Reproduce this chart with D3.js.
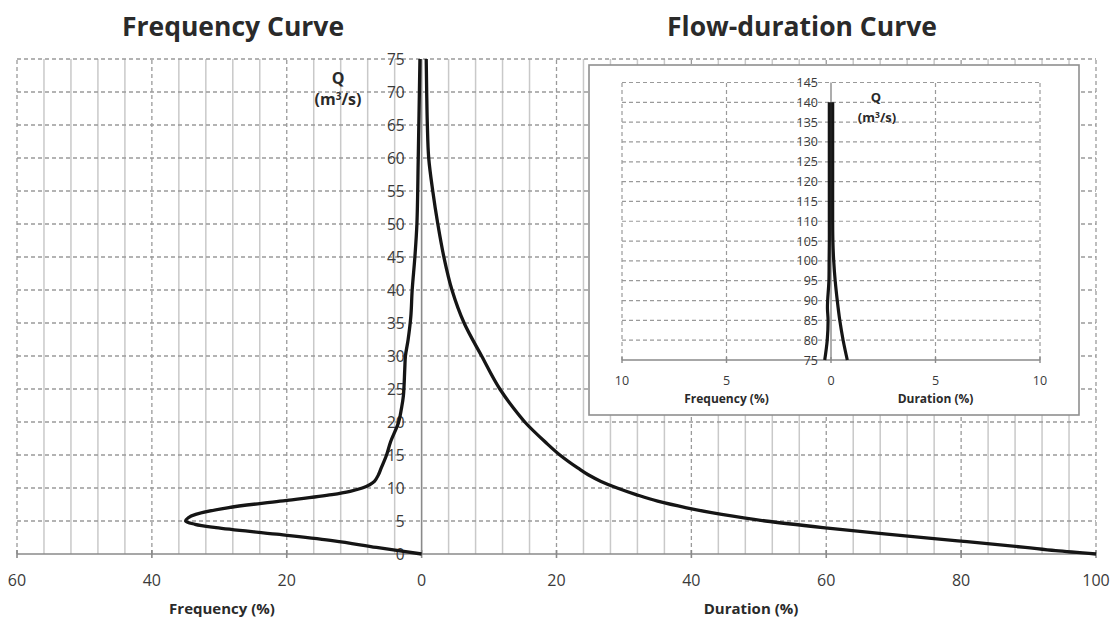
<!DOCTYPE html>
<html>
<head>
<meta charset="utf-8">
<script src="https://cdn.jsdelivr.net/npm/d3@7"></script>
<style>
  html, body { margin: 0; padding: 0; background: #fff; }
  svg { display: block; }
  text { font-family: "Open Sans", Lato, sans-serif; }
</style>
</head>
<body>
<svg id="chart" width="1111" height="622"></svg>
<script>
// ---------------- DATA ----------------
// Main chart: frequency curve (left side, %), discharge Q (m3/s)
const freqQ   = [0, 1, 2, 3, 4, 4.5, 5, 5.5, 6, 7, 8, 9, 9.5, 10, 10.5, 11, 12, 13, 15, 17, 20, 22, 24, 28, 30, 32.5, 36, 40, 45, 50, 60, 75];
const freqPct = [0, 6.7, 13, 21.5, 30.5, 33.6, 35, 34.6, 33.5, 28.8, 21, 13.3, 10.6, 8.8, 7.7, 7.0, 6.4, 6.0, 5.2, 4.6, 3.4, 3.0, 2.7, 2.5, 2.4, 2.0, 1.6, 1.4, 1.0, 0.7, 0.5, 0.25];
// Main chart: flow-duration curve (right side, %)
const durQ    = [0, 0.5, 1, 2, 3, 4, 5, 6, 7, 8, 9, 10, 11, 12, 13, 15, 17, 20, 22, 25, 30, 35, 40, 45, 50, 55, 60, 65, 70, 75];
const durPct  = [100, 94, 89.5, 79.5, 69, 59.5, 51, 44.5, 39.3, 35, 31.8, 29, 26.6, 24.7, 23.2, 20.5, 18.3, 15.3, 13.7, 11.6, 8.9, 6.3, 4.5, 3.3, 2.4, 1.65, 1.05, 0.85, 0.75, 0.68];
// Inset (high flows)
const insetFreqQ   = [75, 80, 85, 88, 90, 95, 100, 105, 110, 120, 130, 140];
const insetFreqPct = [0.3, 0.18, 0.14, 0.17, 0.16, 0.1, 0.09, 0.08, 0.08, 0.08, 0.08, 0.08];
const insetDurQ    = [75, 80, 85, 90, 95, 100, 105, 110, 120, 130, 140];
const insetDurPct  = [0.78, 0.58, 0.42, 0.3, 0.2, 0.13, 0.09, 0.08, 0.08, 0.08, 0.08];

// Tick labels
const mainXTicks  = [-60, -40, -20, 0, 20, 40, 60, 80, 100];
const mainYTicks  = [0, 5, 10, 15, 20, 25, 30, 35, 40, 45, 50, 55, 60, 65, 70, 75];
const insetXTicks = [-10, -5, 0, 5, 10];
const insetYTicks = [75, 80, 85, 90, 95, 100, 105, 110, 115, 120, 125, 130, 135, 140, 145];

const titles = { left: "Frequency Curve", right: "Flow-duration Curve" };
const axisTitles = { freq: "Frequency (%)", dur: "Duration (%)" };

// ---------------- DRAW ----------------
const svg = d3.select("#chart");
const gridDash = "4,3";
const gridCol = "#9a9a9a";
const minorCol = "#c9c9c9";
const axisCol = "#8a8a8a";
const lineCol = "#151515";
const textCol = "#2a2a2a";
const tickCol = "#3a3a3a";

const x = d3.scaleLinear().domain([-60, 100]).range([17, 1096]);
const y = d3.scaleLinear().domain([0, 75]).range([554, 59]);

// Titles
svg.append("text").attr("x", 233).attr("y", 36).attr("text-anchor", "middle")
  .attr("font-size", 26.5).attr("font-weight", 700).attr("fill", textCol).text(titles.left);
svg.append("text").attr("x", 802).attr("y", 36).attr("text-anchor", "middle")
  .attr("font-size", 26.5).attr("font-weight", 700).attr("fill", textCol).text(titles.right);

const main = svg.append("g");

// minor vertical gridlines (solid) every 4 units
const minorX = d3.range(-60, 101, 4).filter(v => v % 20 !== 0);
main.selectAll(".minor").data(minorX).join("line")
  .attr("x1", d => x(d)).attr("x2", d => x(d))
  .attr("y1", y(0)).attr("y2", y(75))
  .attr("stroke", minorCol).attr("stroke-width", 1.5);

// major vertical gridlines (dashed)
main.selectAll(".majorV").data(mainXTicks.filter(v => v !== 0)).join("line")
  .attr("x1", d => x(d)).attr("x2", d => x(d))
  .attr("y1", y(0)).attr("y2", y(75))
  .attr("stroke", gridCol).attr("stroke-width", 1.3).attr("stroke-dasharray", gridDash);

// horizontal dashed gridlines
main.selectAll(".majorH").data(mainYTicks.filter(v => v !== 0)).join("line")
  .attr("x1", x(-60)).attr("x2", x(100))
  .attr("y1", d => y(d)).attr("y2", d => y(d))
  .attr("stroke", gridCol).attr("stroke-width", 1.3).attr("stroke-dasharray", gridDash);

// axes
main.append("line").attr("x1", x(-60)).attr("x2", x(100)).attr("y1", y(0)).attr("y2", y(0))
  .attr("stroke", axisCol).attr("stroke-width", 1.6);
main.append("line").attr("x1", x(0)).attr("x2", x(0)).attr("y1", y(0)).attr("y2", y(75))
  .attr("stroke", axisCol).attr("stroke-width", 1.6);
main.selectAll(".xtick").data(mainXTicks).join("line")
  .attr("x1", d => x(d)).attr("x2", d => x(d))
  .attr("y1", y(0) - 4).attr("y2", y(0) + 4)
  .attr("stroke", axisCol).attr("stroke-width", 1.6);

// tick labels
main.selectAll(".xlab").data(mainXTicks).join("text")
  .attr("x", d => x(d)).attr("y", y(0) + 32)
  .attr("text-anchor", "middle").attr("font-size", 16).attr("fill", tickCol)
  .text(d => Math.abs(d));
main.selectAll(".ylab").data(mainYTicks).join("text")
  .attr("x", x(0) - 17).attr("y", d => y(d) + 5.5)
  .attr("text-anchor", "end").attr("font-size", 15.5).attr("fill", tickCol)
  .text(d => d);

// axis titles
main.append("text").attr("x", 222).attr("y", 614).attr("text-anchor", "middle")
  .attr("font-size", 15).attr("font-weight", 700).attr("fill", textCol).text(axisTitles.freq);
main.append("text").attr("x", 751).attr("y", 614).attr("text-anchor", "middle")
  .attr("font-size", 15).attr("font-weight", 700).attr("fill", textCol).text(axisTitles.dur);

// Q label
main.append("text").attr("x", 338).attr("y", 84).attr("text-anchor", "middle")
  .attr("font-size", 16).attr("font-weight", 700).attr("fill", textCol).text("Q");
const mLab = main.append("text").attr("x", 338).attr("y", 105).attr("text-anchor", "middle")
  .attr("font-size", 16).attr("font-weight", 700).attr("fill", textCol);
mLab.append("tspan").text("(m");
mLab.append("tspan").attr("font-size", 10).attr("dy", -5).text("3");
mLab.append("tspan").attr("dy", 5).text("/s)");

// curves
const freqData = freqQ.map((q, i) => ({ q, v: -freqPct[i] }));
const durData = durQ.map((q, i) => ({ q, v: durPct[i] })).reverse();
const lineFreq = d3.line().x(d => x(d.v)).y(d => y(d.q)).curve(d3.curveCatmullRom.alpha(0.5));
const lineDur = d3.line().x(d => x(d.v)).y(d => y(d.q)).curve(d3.curveMonotoneY);
main.append("path").datum(freqData).attr("d", lineFreq)
  .attr("fill", "none").attr("stroke", lineCol).attr("stroke-width", 3.3).attr("stroke-linejoin", "round");
main.append("path").datum(durData).attr("d", lineDur)
  .attr("fill", "none").attr("stroke", lineCol).attr("stroke-width", 3.3).attr("stroke-linejoin", "round");

// ---------------- INSET ----------------
const inset = svg.append("g");
inset.append("rect").attr("x", 589).attr("y", 65).attr("width", 490).attr("height", 350)
  .attr("fill", "#fff").attr("stroke", "#8f8f8f").attr("stroke-width", 1.6);

const xi = d3.scaleLinear().domain([-10, 10]).range([622, 1040]);
const yi = d3.scaleLinear().domain([75, 145]).range([360, 82.5]);

inset.selectAll(".iH").data(insetYTicks.filter(v => v !== 75)).join("line")
  .attr("x1", xi(-10)).attr("x2", xi(10))
  .attr("y1", d => yi(d)).attr("y2", d => yi(d))
  .attr("stroke", gridCol).attr("stroke-width", 1.2).attr("stroke-dasharray", gridDash);
inset.selectAll(".iV").data(insetXTicks.filter(v => v !== 0)).join("line")
  .attr("x1", d => xi(d)).attr("x2", d => xi(d))
  .attr("y1", yi(75)).attr("y2", yi(145))
  .attr("stroke", gridCol).attr("stroke-width", 1.2).attr("stroke-dasharray", gridDash);
inset.append("line").attr("x1", xi(-10)).attr("x2", xi(10)).attr("y1", yi(75)).attr("y2", yi(75))
  .attr("stroke", axisCol).attr("stroke-width", 1.6);
inset.append("line").attr("x1", xi(0)).attr("x2", xi(0)).attr("y1", yi(75)).attr("y2", yi(145))
  .attr("stroke", axisCol).attr("stroke-width", 1.4);
inset.selectAll(".itick").data(insetXTicks).join("line")
  .attr("x1", d => xi(d)).attr("x2", d => xi(d))
  .attr("y1", yi(75) - 3).attr("y2", yi(75) + 3)
  .attr("stroke", axisCol).attr("stroke-width", 1.4);

inset.selectAll(".ixlab").data(insetXTicks).join("text")
  .attr("x", d => xi(d)).attr("y", yi(75) + 25)
  .attr("text-anchor", "middle").attr("font-size", 12.5).attr("fill", tickCol)
  .text(d => Math.abs(d));
inset.selectAll(".iylab").data(insetYTicks).join("text")
  .attr("x", xi(0) - 13).attr("y", d => yi(d) + 4.5)
  .attr("text-anchor", "end").attr("font-size", 12.5).attr("fill", tickCol)
  .text(d => d);

inset.append("text").attr("x", xi(-5)).attr("y", 403).attr("text-anchor", "middle")
  .attr("font-size", 12).attr("font-weight", 700).attr("fill", textCol).text(axisTitles.freq);
inset.append("text").attr("x", xi(5)).attr("y", 403).attr("text-anchor", "middle")
  .attr("font-size", 12).attr("font-weight", 700).attr("fill", textCol).text(axisTitles.dur);

inset.append("text").attr("x", 876).attr("y", 102).attr("text-anchor", "middle")
  .attr("font-size", 13).attr("font-weight", 700).attr("fill", textCol).text("Q");
const mLab2 = inset.append("text").attr("x", 877).attr("y", 122).attr("text-anchor", "middle")
  .attr("font-size", 13).attr("font-weight", 700).attr("fill", textCol);
mLab2.append("tspan").text("(m");
mLab2.append("tspan").attr("font-size", 8.5).attr("dy", -4).text("3");
mLab2.append("tspan").attr("dy", 4).text("/s)");

const iFreq = insetFreqQ.map((q, i) => ({ q, v: -insetFreqPct[i] }));
const iDur = insetDurQ.map((q, i) => ({ q, v: insetDurPct[i] }));
const lineInset = d3.line().x(d => xi(d.v)).y(d => yi(d.q)).curve(d3.curveCatmullRom.alpha(0.5));
inset.append("path").datum(iFreq).attr("d", lineInset)
  .attr("fill", "none").attr("stroke", lineCol).attr("stroke-width", 3.2).attr("stroke-linejoin", "round");
inset.append("path").datum(iDur).attr("d", lineInset)
  .attr("fill", "none").attr("stroke", lineCol).attr("stroke-width", 3.2).attr("stroke-linejoin", "round");
</script>
</body>
</html>
